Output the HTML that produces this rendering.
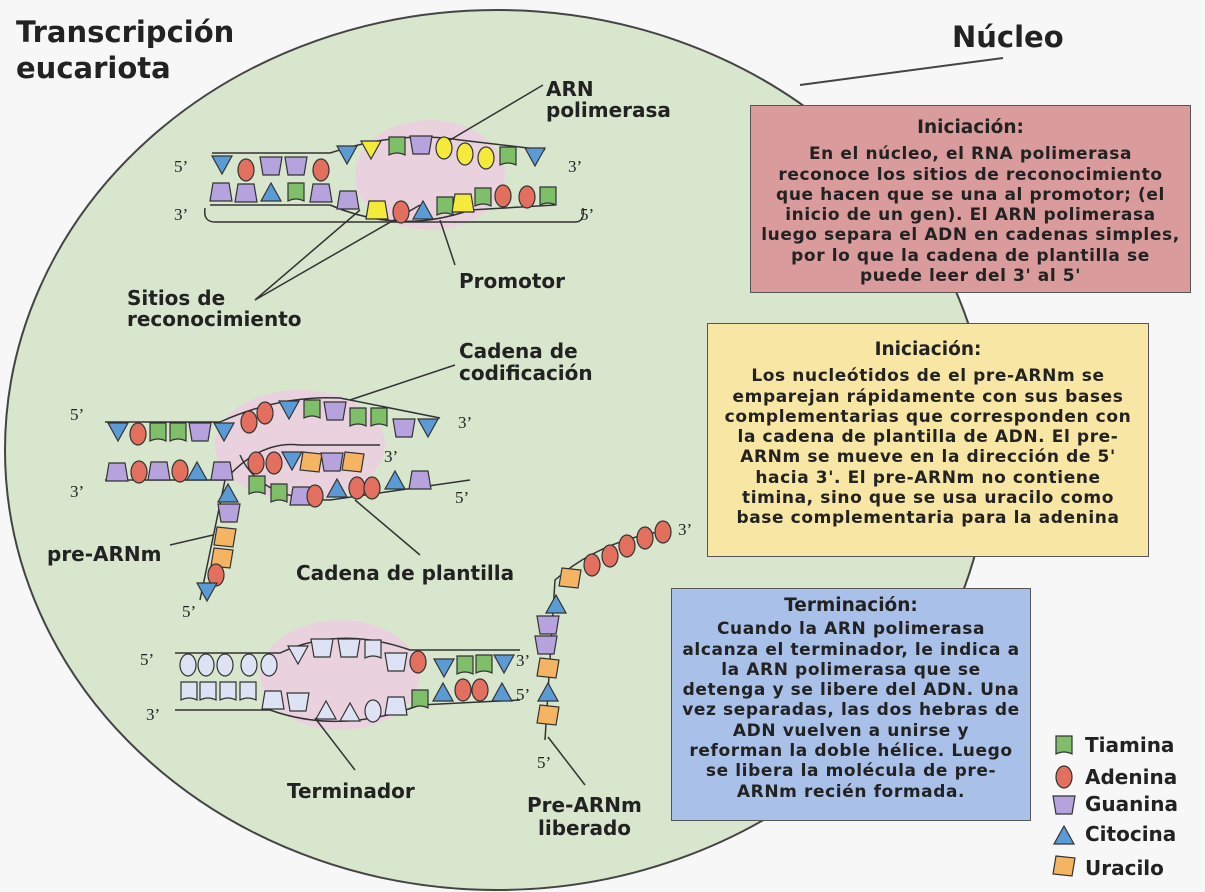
<!DOCTYPE html>
<html><head><meta charset="utf-8"><style>
body{margin:0;width:1205px;height:892px;background:#f7f7f7;overflow:hidden;font-family:"DejaVu Sans",sans-serif;}
svg{position:absolute;left:0;top:0}
.box{position:absolute;border:1.5px solid #555;text-align:center;font-weight:bold;font-size:17px;letter-spacing:0.6px;line-height:20.3px;color:#222;box-sizing:border-box;font-family:"DejaVu Sans",sans-serif;white-space:nowrap}
.box .t{font-size:18.5px;margin-bottom:6px;letter-spacing:0}
</style></head><body>
<svg width="1205" height="892" viewBox="0 0 1205 892">
<defs>
<g id="T"><path d="M-8,-10 L8,-10 L8,8 Q0,4 -8,8 Z" fill="#7fbf6a" stroke="#333" stroke-width="1.2"/></g>
<g id="A"><ellipse rx="8" ry="11" fill="#e3705f" stroke="#333" stroke-width="1.2"/></g>
<g id="G"><path d="M-11,-9 L11,-9 L8,9 L-8,9 Z" fill="#b6a3dd" stroke="#333" stroke-width="1.2"/></g>
<g id="Gu"><path d="M-8,-9 L8,-9 L11,9 L-11,9 Z" fill="#b6a3dd" stroke="#333" stroke-width="1.2"/></g>
<g id="Cd"><path d="M-10,-9 L10,-9 L0,9 Z" fill="#5b9bd5" stroke="#333" stroke-width="1.2"/></g>
<g id="Cu"><path d="M-10,9 L10,9 L0,-9 Z" fill="#5b9bd5" stroke="#333" stroke-width="1.2"/></g>
<g id="U"><path d="M-8,-10 L11,-8 L8,10 L-11,8 Z" fill="#f5b461" stroke="#333" stroke-width="1.2"/></g>
<g id="YA"><ellipse rx="8" ry="11" fill="#f3ea3c" stroke="#333" stroke-width="1.2"/></g>
<g id="YC"><path d="M-10,-9 L10,-9 L0,9 Z" fill="#f3ea3c" stroke="#333" stroke-width="1.2"/></g>
<g id="YG"><path d="M-8,-9 L8,-9 L11,9 L-11,9 Z" fill="#f3ea3c" stroke="#333" stroke-width="1.2"/></g>
<g id="W"><ellipse rx="8" ry="11" fill="#dde3f5" stroke="#333" stroke-width="1.2"/></g>
<g id="WG"><path d="M-11,-9 L11,-9 L8,9 L-8,9 Z" fill="#dde3f5" stroke="#333" stroke-width="1.2"/></g>
<g id="WGu"><path d="M-8,-9 L8,-9 L11,9 L-11,9 Z" fill="#dde3f5" stroke="#333" stroke-width="1.2"/></g>
<g id="WC"><path d="M-10,-9 L10,-9 L0,9 Z" fill="#dde3f5" stroke="#333" stroke-width="1.2"/></g>
<g id="WCu"><path d="M-10,9 L10,9 L0,-9 Z" fill="#dde3f5" stroke="#333" stroke-width="1.2"/></g>
<g id="WT"><path d="M-8,-10 L8,-10 L8,8 Q0,4 -8,8 Z" fill="#dde3f5" stroke="#333" stroke-width="1.2"/></g>
</defs>
<ellipse cx="497" cy="450" rx="492" ry="440" fill="#d8e6cd" stroke="#444" stroke-width="2"/>
<line x1="800" y1="85" x2="1003" y2="58" stroke="#444" stroke-width="2"/>
<ellipse cx="430" cy="175" rx="75" ry="55" fill="#ebcfe0" opacity=".9"/>
<ellipse cx="300" cy="445" rx="85" ry="55" fill="#ebcfe0" opacity=".9"/>
<ellipse cx="340" cy="675" rx="80" ry="55" fill="#ebcfe0" opacity=".9"/>
<g fill="none" stroke="#333" stroke-width="1.5">
<path d="M212,153 L330,153 Q400,130 460,140 L545,150"/>
<path d="M210,205 L330,205 Q400,235 470,210 L555,205"/>
<path d="M205,208 Q203,222 215,222 L575,222 Q585,222 583,208"/>
<line x1="255" y1="300" x2="420" y2="205"/><line x1="255" y1="300" x2="360" y2="210"/>
<line x1="455" y1="265" x2="440" y2="220"/><line x1="543" y1="85" x2="450" y2="140"/>
</g>
<g>
<use href="#Cd" x="222" y="165"/><use href="#A" x="246" y="170"/><use href="#G" x="271" y="166"/><use href="#G" x="296" y="166"/><use href="#A" x="321" y="170"/><use href="#Cd" x="347" y="155"/><use href="#YC" x="371" y="150"/><use href="#T" x="397" y="147"/><use href="#G" x="421" y="145"/><use href="#YA" x="444" y="148"/><use href="#YA" x="465" y="154"/><use href="#YA" x="486" y="158"/><use href="#T" x="508" y="157"/><use href="#Cd" x="535" y="157"/>
<use href="#Gu" x="221" y="192"/><use href="#Gu" x="246" y="193"/><use href="#Cu" x="271" y="192"/><use href="#T" x="296" y="193"/><use href="#Gu" x="321" y="193"/><use href="#Gu" x="348" y="200"/><use href="#YG" x="377" y="210"/><use href="#A" x="401" y="212"/><use href="#Cu" x="423" y="210"/><use href="#T" x="445" y="207"/><use href="#YG" x="463" y="203"/><use href="#T" x="483" y="198"/><use href="#A" x="503" y="196"/><use href="#A" x="527" y="197"/><use href="#T" x="548" y="197"/>
</g>
<g fill="none" stroke="#333" stroke-width="1.5">
<path d="M105,422 L220,422 Q280,395 340,398 L440,418"/>
<path d="M105,480 L225,480 Q260,440 300,445 L380,445"/>
<path d="M240,455 Q260,500 330,500 L400,490 L470,480"/>
<path d="M225,480 L200,600"/>
<line x1="350" y1="400" x2="455" y2="365"/><line x1="355" y1="500" x2="420" y2="555"/><line x1="170" y1="545" x2="213" y2="535"/>
</g>
<g>
<use href="#Cd" x="118" y="432"/><use href="#A" x="138" y="434"/><use href="#T" x="158" y="433"/><use href="#T" x="178" y="433"/><use href="#G" x="200" y="432"/><use href="#Cd" x="224" y="432"/><use href="#A" x="249" y="422"/><use href="#A" x="265" y="413"/><use href="#Cd" x="289" y="410"/><use href="#T" x="312" y="410"/><use href="#G" x="335" y="411"/><use href="#T" x="358" y="418"/><use href="#T" x="379" y="418"/><use href="#G" x="404" y="428"/><use href="#Cd" x="428" y="428"/>
<use href="#Gu" x="117" y="472"/><use href="#A" x="139" y="472"/><use href="#Gu" x="159" y="471"/><use href="#A" x="180" y="471"/><use href="#Cu" x="197" y="471"/><use href="#Gu" x="222" y="471"/>
<use href="#A" x="256" y="463"/><use href="#A" x="274" y="463"/><use href="#Cd" x="292" y="461"/><use href="#U" x="311" y="462"/><use href="#G" x="332" y="462"/><use href="#U" x="353" y="462"/>
<use href="#T" x="257" y="486"/><use href="#T" x="279" y="494"/><use href="#Gu" x="301" y="496"/><use href="#A" x="315" y="496"/><use href="#Cu" x="337" y="488"/><use href="#A" x="357" y="488"/><use href="#A" x="372" y="488"/><use href="#Cu" x="395" y="480"/><use href="#Gu" x="420" y="480"/>
<use href="#Cu" x="228" y="493"/><use href="#G" x="229" y="513"/><use href="#U" x="225" y="537"/><use href="#U" x="222" y="558"/><use href="#A" x="216" y="575"/><use href="#Cd" x="207" y="592"/>
</g>
<g fill="none" stroke="#333" stroke-width="1.5">
<path d="M175,653 L280,653 Q340,625 410,650 L520,650"/>
<path d="M175,710 L270,710 Q340,735 420,705 L520,700"/>
<path d="M545,740 L555,580 Q600,540 670,530"/>
<line x1="355" y1="770" x2="315" y2="718"/><line x1="585" y1="785" x2="548" y2="737"/>
</g>
<g>
<use href="#W" x="188" y="665"/><use href="#W" x="206" y="665"/><use href="#W" x="225" y="665"/><use href="#W" x="249" y="665"/><use href="#W" x="269" y="665"/><use href="#WC" x="298" y="655"/><use href="#WG" x="322" y="648"/><use href="#WG" x="349" y="648"/><use href="#WT" x="373" y="650"/><use href="#WG" x="396" y="662"/><use href="#A" x="418" y="662"/><use href="#Cd" x="444" y="668"/><use href="#T" x="465" y="666"/><use href="#T" x="484" y="665"/><use href="#Cd" x="504" y="664"/>
<use href="#WT" x="189" y="692"/><use href="#WT" x="208" y="692"/><use href="#WT" x="228" y="692"/><use href="#WT" x="248" y="692"/><use href="#WGu" x="273" y="700"/><use href="#WG" x="298" y="702"/><use href="#WCu" x="326" y="710"/><use href="#WCu" x="350" y="712"/><use href="#W" x="373" y="711"/><use href="#WGu" x="396" y="706"/><use href="#T" x="420" y="700"/><use href="#Cu" x="443" y="692"/><use href="#A" x="463" y="690"/><use href="#A" x="480" y="690"/><use href="#Cu" x="502" y="692"/>
<use href="#U" x="548" y="715"/><use href="#Cu" x="548" y="692"/><use href="#U" x="548" y="668"/><use href="#G" x="546" y="645"/><use href="#G" x="548" y="625"/><use href="#Cu" x="556" y="604"/><use href="#U" x="570" y="578"/><use href="#A" x="592" y="565"/><use href="#A" x="610" y="556"/><use href="#A" x="627" y="546"/><use href="#A" x="645" y="538"/><use href="#A" x="663" y="532"/>
</g>
<g font-family="Liberation Serif,serif" font-size="17" fill="#222">
<text x="174" y="172">5’</text><text x="174" y="220">3’</text><text x="568" y="172">3’</text><text x="580" y="220">5’</text>
<text x="70" y="420">5’</text><text x="70" y="497">3’</text><text x="458" y="428">3’</text><text x="384" y="462">3’</text><text x="455" y="503">5’</text><text x="182" y="617">5’</text>
<text x="140" y="665">5’</text><text x="146" y="720">3’</text><text x="516" y="666">3’</text><text x="516" y="700">5’</text><text x="537" y="768">5’</text><text x="678" y="535">3’</text>
</g>
<g font-weight="bold" fill="#222" font-family="DejaVu Sans,sans-serif">
<text x="16" y="42" font-size="29">Transcripción</text><text x="16" y="78" font-size="29">eucariota</text>
<text x="952" y="47" font-size="29">Núcleo</text>
<g font-size="20"><text x="546" y="96">ARN</text><text x="546" y="117">polimerasa</text>
<text x="459" y="288">Promotor</text><text x="127" y="305">Sitios de</text><text x="127" y="326">reconocimiento</text>
<text x="459" y="358">Cadena de</text><text x="459" y="380">codificación</text>
<text x="47" y="561">pre-ARNm</text><text x="296" y="580">Cadena de plantilla</text>
<text x="287" y="798">Terminador</text><text x="527" y="812">Pre-ARNm</text><text x="538" y="835">liberado</text></g>
<g font-size="20"><text x="1085" y="752">Tiamina</text><text x="1085" y="784">Adenina</text><text x="1085" y="811">Guanina</text><text x="1085" y="841">Citocina</text><text x="1085" y="875">Uracilo</text></g>
</g>
<use href="#T" x="1064" y="746"/><use href="#A" x="1064" y="777"/><use href="#G" x="1064" y="805"/><use href="#Cu" x="1064" y="835"/><use href="#U" x="1064" y="866"/>
</svg>
<div class="box" style="left:750px;top:105px;width:441px;height:188px;background:#d99b9b;padding-top:12px"><div class="t">Iniciación:</div>En el núcleo, el RNA polimerasa<br>reconoce los sitios de reconocimiento<br>que hacen que se una al promotor; (el<br>inicio de un gen). El ARN polimerasa<br>luego separa el ADN en cadenas simples,<br>por lo que la cadena de plantilla se<br>puede leer del 3' al 5'</div>
<div class="box" style="left:707px;top:323px;width:442px;height:234px;background:#f8e6a4;padding-top:16px"><div class="t">Iniciación:</div>Los nucleótidos de el pre-ARNm se<br>emparejan rápidamente con sus bases<br>complementarias que corresponden con<br>la cadena de plantilla de ADN. El pre-<br>ARNm se mueve en la dirección de 5'<br>hacia 3'. El pre-ARNm no contiene<br>timina, sino que se usa uracilo como<br>base complementaria para la adenina</div>
<div class="box" style="left:671px;top:588px;width:360px;height:233px;background:#a9c0e8;padding-top:7px"><div class="t" style="margin-bottom:3px">Terminación:</div>Cuando la ARN polimerasa<br>alcanza el terminador, le indica a<br>la ARN polimerasa que se<br>detenga y se libere del ADN. Una<br>vez separadas, las dos hebras de<br>ADN vuelven a unirse y<br>reforman la doble hélice. Luego<br>se libera la molécula de pre-<br>ARNm recién formada.</div>
</body></html>
